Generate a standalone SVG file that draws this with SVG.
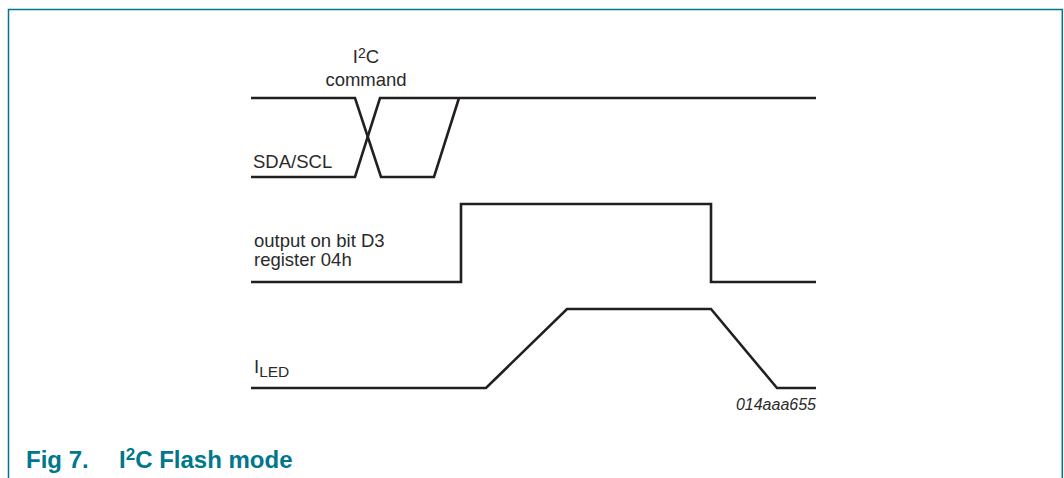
<svg xmlns="http://www.w3.org/2000/svg" width="1064" height="478" viewBox="0 0 1064 478">
<style>
.frame{fill:none;stroke:#00778b;stroke-width:1.5}
.wave{fill:none;stroke:#231f20;stroke-width:2.6;stroke-linejoin:miter}
.lbl{font-family:"Liberation Sans",Arial,sans-serif;font-size:18.5px;fill:#2a2a2a}
.id{font-family:"Liberation Sans",Arial,sans-serif;font-size:16px;font-style:italic;fill:#2a2a2a}
.title{font-family:"Liberation Sans",Arial,sans-serif;font-size:24px;font-weight:bold;fill:#00778b}
</style>
<rect width="1064" height="478" fill="#ffffff"/>
<path class="frame" d="M8.5,478 V9.5 H1062.3 V478"/>
<g id="sda-scl">
<path class="wave" d="M251,98 H355 L381,177 H434 L459,98"/>
<path class="wave" d="M251,177 H355 L380,98 H816"/>
<text class="lbl" x="366" y="63" text-anchor="middle">I<tspan font-size="14" dy="-5">2</tspan><tspan dy="5">C</tspan></text>
<text class="lbl" x="366" y="86" text-anchor="middle">command</text>
<text class="lbl" x="253" y="168">SDA/SCL</text>
</g>
<g id="output-d3">
<path class="wave" d="M251,282 H461 V204 H711 V282 H816"/>
<text class="lbl" x="254" y="246.5">output on bit D3</text>
<text class="lbl" x="254" y="266">register 04h</text>
</g>
<g id="iled">
<path class="wave" d="M251,388 H486 L567,309 H711 L777,388 H816"/>
<text class="lbl" x="254" y="373">I<tspan font-size="15.5" dy="3.5">LED</tspan></text>
</g>
<g id="connectors"/>
<text class="id" x="816" y="410" text-anchor="end">014aaa655</text>
<text class="title" x="26" y="468">Fig 7.</text>
<text class="title" x="119" y="468">I<tspan font-size="17" dy="-8">2</tspan><tspan dy="8">C Flash mode</tspan></text>
</svg>
